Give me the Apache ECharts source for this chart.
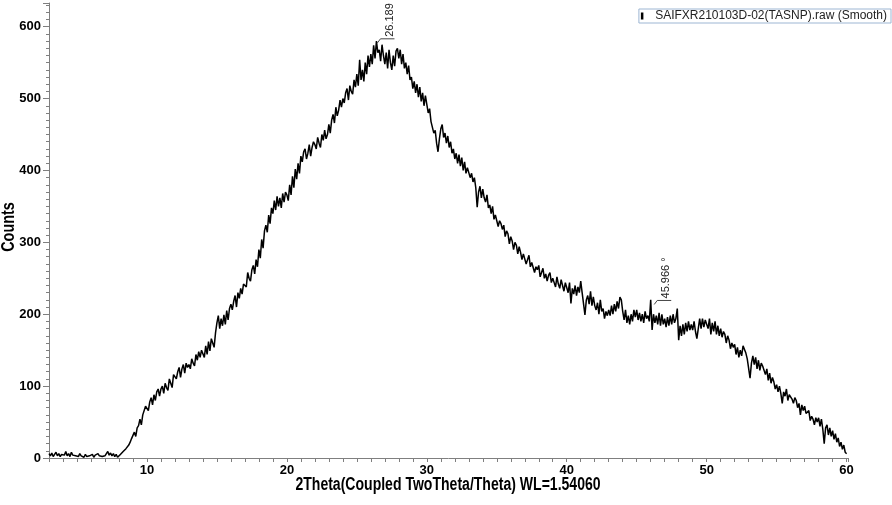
<!DOCTYPE html>
<html>
<head>
<meta charset="utf-8">
<script src="https://cdn.jsdelivr.net/npm/echarts@6/dist/echarts.min.js"></script>
<style>
  html, body { margin: 0; padding: 0; background: #fff; }
  #main { width: 892px; height: 505px; }
</style>
</head>
<body>
<div id="main"></div>
<script>
// scan settings (2theta, degrees)
const startAngle = 3.0;
const stepSize = 0.1;

// counts, one row per degree (3.0 ... 60.0)
const counts = [
  6, 3, 7, 2, 5, 8, 3, 6, 2, 5,
  7, 4, 9, 3, 6, 2, 8, 4, 6, 3,
  5, 2, 6, 3, 4, 1, 5, 2, 4, 3,
  2, 5, 1, 4, 2, 6, 3, 5, 2, 4,
  3, 6, 9, 4, 7, 3, 6, 2, 5, 1,
  0, 5, 3, 9, 7, 13, 11, 18, 22, 27,
  26, 36, 30, 42, 45, 54, 46, 60, 62, 72,
  72, 66, 78, 84, 74, 88, 80, 92, 96, 86,
  96, 100, 90, 104, 98, 94, 110, 104, 98, 116,
  116, 110, 120, 126, 112, 124, 130, 118, 132, 126,
  130, 124, 138, 132, 128, 144, 136, 148, 140, 150,
  152, 140, 156, 144, 162, 149, 166, 160, 154, 174,
  188, 198, 180, 194, 184, 199, 186, 205, 192, 208,
  214, 206, 218, 226, 210, 230, 222, 236, 228, 242,
  244, 238, 258, 250, 246, 262, 268, 256, 276, 266,
  290, 278, 304, 292, 316, 324, 314, 338, 326, 348,
  340, 358, 345, 364, 350, 362, 348, 368, 356, 370,
  366, 358, 380, 366, 392, 376, 402, 388, 410, 396,
  420, 412, 426, 430, 416, 424, 436, 420, 432, 440,
  436, 430, 446, 438, 432, 450, 442, 456, 444, 450,
  464, 452, 470, 478, 466, 488, 476, 484, 498, 488,
  500, 494, 508, 514, 498, 518, 510, 506, 526, 516,
  534, 518, 554, 526, 540, 524, 550, 534, 560, 544,
  562, 548, 574, 556, 580, 564, 568, 552, 575, 560,
  548, 564, 542, 568, 550, 540, 560, 545, 566, 570,
  556, 568, 548, 562, 542, 550, 534, 546, 526, 530,
  514, 524, 508, 520, 502, 516, 496, 508, 490, 504,
  492, 480, 486, 468, 470, 452, 456, 438, 426, 444,
  458, 464, 446, 452, 438, 448, 432, 440, 424, 430,
  416, 424, 410, 422, 406, 418, 400, 412, 396, 404,
  404, 390, 396, 384, 390, 376, 349, 370, 378, 362,
  374, 362, 356, 366, 348, 352, 340, 350, 332, 338,
  340, 322, 330, 326, 318, 324, 308, 316, 312, 298,
  308, 302, 290, 300, 296, 284, 294, 286, 276, 284,
  286, 270, 276, 282, 266, 272, 270, 258, 266, 262,
  268, 252, 258, 264, 250, 256, 246, 254, 258, 244,
  250, 244, 238, 252, 242, 236, 248, 240, 232, 244,
  242, 230, 244, 215, 236, 228, 240, 226, 238, 230,
  246, 230, 232, 199, 220, 226, 214, 232, 212, 224,
  212, 206, 216, 200, 220, 204, 208, 194, 204, 198,
  206, 198, 212, 200, 214, 204, 218, 208, 224, 220,
  204, 192, 206, 188, 198, 186, 200, 190, 206, 196,
  206, 192, 202, 190, 200, 188, 204, 194, 198, 190,
  220, 178, 200, 188, 198, 186, 202, 184, 200, 186,
  194, 182, 196, 184, 198, 186, 200, 188, 194, 208,
  164, 184, 170, 186, 172, 188, 176, 190, 178, 186,
  178, 190, 176, 166, 180, 194, 180, 194, 182, 192,
  194, 180, 194, 172, 188, 176, 190, 172, 184, 170,
  180, 168, 176, 172, 160, 170, 164, 152, 160, 154,
  158, 144, 154, 140, 150, 142, 156, 158, 146, 138,
  136, 111, 132, 142, 130, 140, 124, 136, 122, 132,
  128, 122, 116, 124, 108, 118, 104, 112, 106, 96,
  102, 92, 100, 90, 76, 92, 86, 96, 80, 88,
  88, 82, 76, 84, 80, 70, 76, 60, 74, 66,
  72, 62, 60, 66, 52, 58, 54, 46, 56, 50,
  56, 44, 54, 40, 20, 42, 46, 32, 42, 30,
  38, 26, 34, 22, 28, 16, 22, 12, 18, 8,
  6
];

// peak labels
const peakAngles = [26.189, 45.966];
const peakCounts = [579, 215];
const peakLabels = ['26.189', '45.966 °'];

const seriesName = 'SAIFXR210103D-02(TASNP).raw (Smooth)';
const xTitle = '2Theta(Coupled TwoTheta/Theta) WL=1.54060';
const yTitle = 'Counts';

const lineData = counts.map((c, i) => [+(startAngle + i * stepSize).toFixed(2), c]);
const peakData = peakAngles.map((a, i) => [a, peakCounts[i], peakLabels[i]]);

const axisGray = '#7f7f7f';
const arial = 'Arial, "Liberation Sans", sans-serif';
const labelFont = { fontFamily: arial, fontWeight: 'bold', fontSize: 13, color: '#000' };
const titleStyle = { fontFamily: arial, fontWeight: 'bold', fontSize: 18, fill: '#000' };

const chart = echarts.init(document.getElementById('main'), null, { renderer: 'canvas' });

chart.setOption({
  backgroundColor: '#fff',
  animation: false,
  grid: { left: 49, right: 44, top: 3, bottom: 47, containLabel: false, outerBoundsMode: 'none' },
  legend: {
    data: [seriesName],
    right: 1,
    top: 9,
    padding: [0, 4, 0, 2],
    backgroundColor: '#fff',
    borderColor: '#9db6d3',
    borderWidth: 1,
    itemWidth: 6,
    itemHeight: 7,
    icon: 'path://M0,0h2.5v7h-2.5z',
    itemStyle: { color: '#000' },
    textStyle: { fontFamily: arial, fontSize: 12, color: '#222', padding: [0, 0, 0, 5], lineHeight: 14 }
  },
  // axis titles: the original uses a condensed bold face, so squeeze Arial a little
  graphic: [
    {
      type: 'text',
      x: 448,
      y: 476,
      scaleX: 0.78,
      style: Object.assign({ text: xTitle, textAlign: 'center', textVerticalAlign: 'top' }, titleStyle)
    },
    {
      type: 'text',
      x: 9,
      y: 227,
      rotation: Math.PI / 2,
      scaleX: 0.8,
      style: Object.assign({ text: yTitle, textAlign: 'center', textVerticalAlign: 'middle' }, titleStyle)
    }
  ],
  xAxis: {
    type: 'value',
    min: 3,
    max: 60.1,
    interval: 1,
    axisLine: { lineStyle: { color: axisGray, width: 1 } },
    axisTick: { length: 4, lineStyle: { color: axisGray } },
    axisLabel: Object.assign({ margin: 6, formatter: v => (Math.abs(v % 10) < 1e-6 ? String(v) : '') }, labelFont),
    splitLine: { show: false }
  },
  yAxis: {
    type: 'value',
    min: 0,
    max: 633,
    interval: 100,
    axisLine: { show: true, lineStyle: { color: axisGray, width: 1 } },
    axisTick: { length: 6, lineStyle: { color: axisGray } },
    minorTick: { show: true, splitNumber: 10, length: 3, lineStyle: { color: axisGray } },
    axisLabel: Object.assign({ margin: 8, formatter: v => (v % 100 === 0 ? String(v) : '') }, labelFont),
    splitLine: { show: false }
  },
  series: [
    {
      name: seriesName,
      type: 'line',
      data: lineData,
      showSymbol: false,
      color: '#000',
      lineStyle: { color: '#000', width: 1.5 }
    },
    {
      name: 'peaks',
      type: 'custom',
      clip: false,
      data: peakData,
      renderItem: (params, api) => {
        const p = api.coord([api.value(0), api.value(1)]);
        const label = peakLabels[params.dataIndex];
        return {
          type: 'group',
          children: [
            {
              type: 'polyline',
              shape: { points: [[p[0] + 4, p[1] + 1], [p[0] + 7, p[1] - 3], [p[0] + 21, p[1] - 3]] },
              style: { stroke: '#444', lineWidth: 1, fill: null }
            },
            {
              type: 'text',
              x: p[0] + 16,
              y: p[1] - 5,
              rotation: Math.PI / 2,
              style: {
                text: label,
                fontFamily: arial,
                fontSize: 11,
                fill: '#222',
                textAlign: 'left',
                textVerticalAlign: 'middle'
              }
            }
          ]
        };
      }
    }
  ]
});
</script>
</body>
</html>
